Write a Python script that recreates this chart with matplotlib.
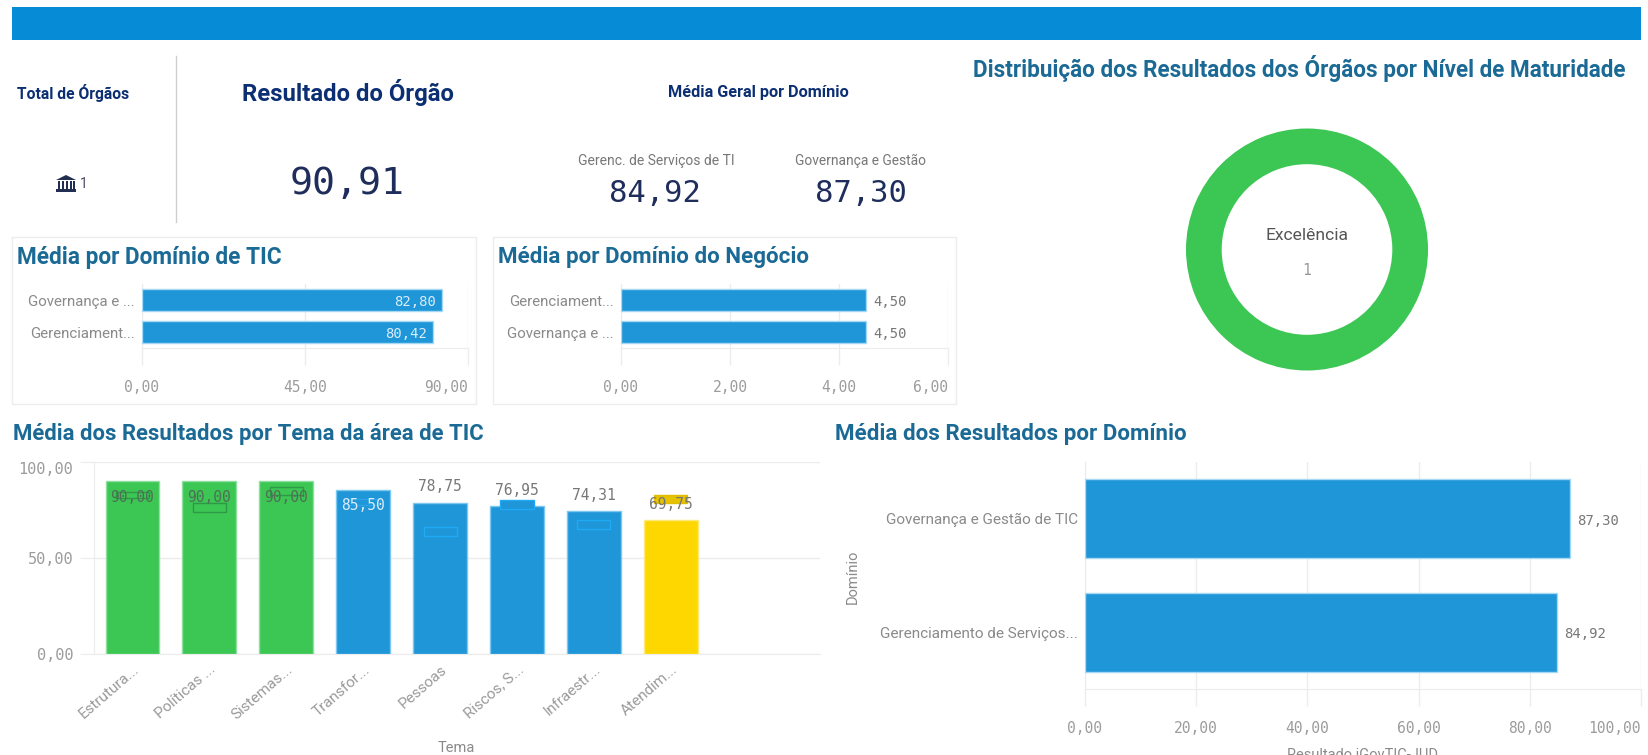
import matplotlib
matplotlib.use('Agg')
import matplotlib.pyplot as plt
from matplotlib.patches import Rectangle, Polygon
from matplotlib.transforms import ScaledTranslation

W, H = 1649, 755

# dados
tic_labels = ['Governança e ...', 'Gerenciament...']
tic_values = [82.80, 80.42]
neg_labels = ['Gerenciament...', 'Governança e ...']
neg_values = [4.50, 4.50]
tema_labels = ['Estrutura...', 'Políticas ...', 'Sistemas...', 'Transfor...',
               'Pessoas', 'Riscos, S...', 'Infraestr...', 'Atendim...']
tema_values = [90.00, 90.00, 90.00, 85.50, 78.75, 76.95, 74.31, 69.75]
tema_ref_low = [81.3, 74.0, 82.8, 77.6, 61.6, 75.5, 65.1, 78.6]
tema_ref_high = [84.5, 78.6, 87.0, 80.7, 66.3, 80.2, 69.8, 82.8]
dom_labels = ['Governança e Gestão de TIC', 'Gerenciamento de Serviços...']
dom_values = [87.30, 84.92]
donut_label = 'Excelência'
donut_values = [1]

# cores
BLUE = '#1e96d8'
GREEN = '#3cc654'
YELLOW = '#ffd700'
tema_colors = [GREEN, GREEN, GREEN, BLUE, BLUE, BLUE, BLUE, YELLOW]
tema_edges = ['#8fe0a0', '#8fe0a0', '#8fe0a0', '#7cc8f0', '#7cc8f0', '#7cc8f0', '#7cc8f0', '#ffe97a']
ref_fill = ['#3cc654', '#3cc654', '#3cc654', '#1e96d8', '#1e96d8', '#1e96d8', '#1e96d8', '#e6c200']
ref_edge = ['#2f9a45', '#2f9a45', '#2f9a45', '#2aa5ea', '#1eaaf5', '#1eaaf5', '#1eaaf5', '#e0bd00']
TITLE = '#1b6a96'
NAVY = '#0c2f74'
NUM = '#1f2d5c'
GRID = '#ececec'
TICK = '#9c9c9c'
MONO = 'DejaVu Sans Mono'
SANS = 'Roboto'

plt.rcParams['font.family'] = SANS
fig = plt.figure(figsize=(W / 100, H / 100), dpi=100, facecolor='white')


def fx(x):
    return x / W


def fy(y):
    return 1 - y / H


def put(x, y, s, width=None, size=10, **kw):
    # texto em pixels; se width for dado, ajusta o tamanho da fonte
    kw.setdefault('ha', 'center')
    kw.setdefault('va', 'center')
    t = fig.text(fx(x), fy(y), s, fontsize=size, **kw)
    if width:
        w = t.get_window_extent(fig.canvas.get_renderer()).width
        t.set_fontsize(size * width / w)
    return t


def box_axes(x0, x1, top, bottom):
    return fig.add_axes([fx(x0), fy(bottom), (x1 - x0) / W, (bottom - top) / H])


def frect(x0, y0, x1, y1, **kw):
    fig.add_artist(Rectangle((fx(x0), fy(y1)), (x1 - x0) / W, (y1 - y0) / H,
                             transform=fig.transFigure, **kw))


def hbars(rect, labels, values, xmax, ticks, inside, cat_size, val_size):
    ax = box_axes(*rect)
    pos = range(len(values))
    ax.barh(pos, values, height=0.7, color=BLUE, edgecolor='#a5d8f3', linewidth=1, zorder=3)
    ax.set_xlim(0, xmax)
    ax.set_ylim(len(values) - 0.5, -0.5)
    ax.set_yticks(list(pos))
    ax.set_yticklabels(labels, fontsize=cat_size, color='#8a8a8a')
    ax.tick_params(axis='y', length=0, pad=5)
    ax.set_xticks(ticks)
    ax.set_xticklabels([f'{t:.2f}'.replace('.', ',') for t in ticks], family=MONO,
                       fontsize=val_size, color=TICK)
    ax.get_xticklabels()[-1].set_ha('right')
    ax.tick_params(axis='x', length=12, color=GRID, width=1, pad=11)
    ax.grid(axis='x', color=GRID, linewidth=1, zorder=0)
    for s in ['top', 'right']:
        ax.spines[s].set_visible(False)
    ax.spines['left'].set_color(GRID)
    ax.spines['bottom'].set_color(GRID)
    for i, v in enumerate(values):
        txt = f'{v:.2f}'.replace('.', ',')
        if inside:
            ax.annotate(txt, (v, i), xytext=(-6, -2), textcoords='offset pixels', ha='right',
                        va='center', family=MONO, fontsize=val_size - 0.5, color='#dcecf6', zorder=4)
        else:
            ax.annotate(txt, (v, i), xytext=(7, -2), textcoords='offset pixels', ha='left',
                        va='center', family=MONO, fontsize=val_size - 0.5, color='#777777', zorder=4)
    return ax


# faixa superior
frect(12, 7, 1641, 40, facecolor='#068bd6', edgecolor='none')

# KPIs
fig.add_artist(plt.Line2D([fx(176), fx(176)], [fy(56), fy(222)], color='#cfcfcf', lw=1))
put(73.5, 93, 'Total de Órgãos', width=112, weight='bold', color=NAVY)
put(347.5, 93, 'Resultado do Órgão', width=212, weight='bold', color=NAVY)
put(758, 93, 'Média Geral por Domínio', width=182, weight='bold', color=NAVY)
put(347, 184, '90,91', size=27.5, family=MONO, color=NUM)
put(656, 161, 'Gerenc. de Serviços de TI', width=157, color='#777777')
put(861, 161, 'Governança e Gestão', width=131, color='#777777')
put(655, 193, '84,92', size=22, family=MONO, color=NUM)
put(861, 193, '87,30', size=22, family=MONO, color=NUM)
put(84, 184, '1', size=10, color='#4a4a6a')

# icone do orgao
icon = '#232f52'
fig.add_artist(Polygon([(fx(56), fy(180)), (fx(66), fy(175)), (fx(76), fy(180))],
                       transform=fig.transFigure, facecolor=icon, edgecolor='none'))
for cx in [58, 62, 66, 70, 73]:
    frect(cx, 181, cx + 2, 189, facecolor=icon, edgecolor='none')
frect(56, 189, 76, 192, facecolor=icon, edgecolor='none')

# paineis superiores
for x0, x1 in [(12, 476), (493, 956)]:
    frect(x0, 237, x1, 404, facecolor='none', edgecolor='#ececec', linewidth=1)

put(17, 257, 'Média por Domínio de TIC', width=265, ha='left', weight='bold', color=TITLE)
put(498, 257, 'Média por Domínio do Negócio', width=312, ha='left', weight='bold', color=TITLE)
put(973, 69, 'Distribuição dos Resultados dos Órgãos por Nível de Maturidade', width=654,
    ha='left', weight='bold', color=TITLE)
put(13, 434, 'Média dos Resultados por Tema da área de TIC', width=472, ha='left', weight='bold', color=TITLE)
put(835, 434, 'Média dos Resultados por Domínio', width=352, ha='left', weight='bold', color=TITLE)

hbars((142, 468, 284, 348), tic_labels, tic_values, 90, [0, 45, 90], True, 10.8, 10.5)
hbars((621, 948, 284, 348), neg_labels, neg_values, 6, [0, 2, 4, 6], False, 10.8, 10.5)

# rosca
ax = box_axes(1186, 1428, 128.5, 370.5)
ax.pie(donut_values, colors=[GREEN], radius=1, startangle=90, wedgeprops={'width': 0.295})
ax.set_xlim(-1, 1)
ax.set_ylim(-1, 1)
put(1307, 235, donut_label, width=83, color='#555555')
put(1307, 270, str(donut_values[0]), size=10.5, family=MONO, color='#999999')

# barras por tema
ax = box_axes(94, 820, 462, 654)
x = list(range(len(tema_values)))
ax.bar(x, tema_values, width=0.7, color=tema_colors, edgecolor=tema_edges, linewidth=1, zorder=3)
ax.bar(x, [h - l for h, l in zip(tema_ref_high, tema_ref_low)], bottom=tema_ref_low, width=0.43,
       color=ref_fill, edgecolor=ref_edge, linewidth=1, zorder=4)
ax.set_xlim(-0.5, 8.94)
ax.set_ylim(0, 100)
ax.set_yticks([0, 50, 100])
ax.set_yticklabels(['0,00', '50,00', '100,00'], family=MONO, fontsize=11, color=TICK)
ax.get_yticklabels()[-1].set_va('top')
ax.tick_params(axis='y', length=10, color=GRID, pad=5)
ax.set_xticks(x)
ax.set_xticklabels(tema_labels, rotation=41, ha='right', rotation_mode='anchor',
                   fontsize=11, color='#9a9a9a')
shift = ScaledTranslation(4 / 100, 0, fig.dpi_scale_trans)
for lab in ax.get_xticklabels():
    lab.set_transform(lab.get_transform() + shift)
ax.tick_params(axis='x', length=0, pad=6)
ax.grid(axis='y', color=GRID, linewidth=1, zorder=0)
for s in ['top', 'right']:
    ax.spines[s].set_visible(False)
ax.spines['left'].set_color(GRID)
ax.spines['bottom'].set_color(GRID)
for i, v in enumerate(tema_values):
    txt = f'{v:.2f}'.replace('.', ',')
    if v > 80:
        col = '#dcecf6' if tema_colors[i] == BLUE else '#4f6f55'
        ax.annotate(txt, (i, v), xytext=(0, -16), textcoords='offset pixels', ha='center', va='center',
                    family=MONO, fontsize=10.5, color=col, zorder=5)
    else:
        ax.annotate(txt, (i, v), xytext=(0, 16), textcoords='offset pixels', ha='center', va='center',
                    family=MONO, fontsize=10.5, color='#777777', zorder=5)
put(456, 748, 'Tema', size=10.5, color='#8a8a8a')

# barras por dominio
ax = hbars((1085, 1641, 462, 689), dom_labels, dom_values, 100, [0, 20, 40, 60, 80, 100], False, 11, 10.5)
put(853, 577, 'Domínio', size=10.5, rotation=90, color='#8a8a8a')
put(1363, 755, 'Resultado iGovTIC-JUD', size=10.5, color='#8a8a8a')

fig.savefig('out.png', dpi=100, facecolor='white')
